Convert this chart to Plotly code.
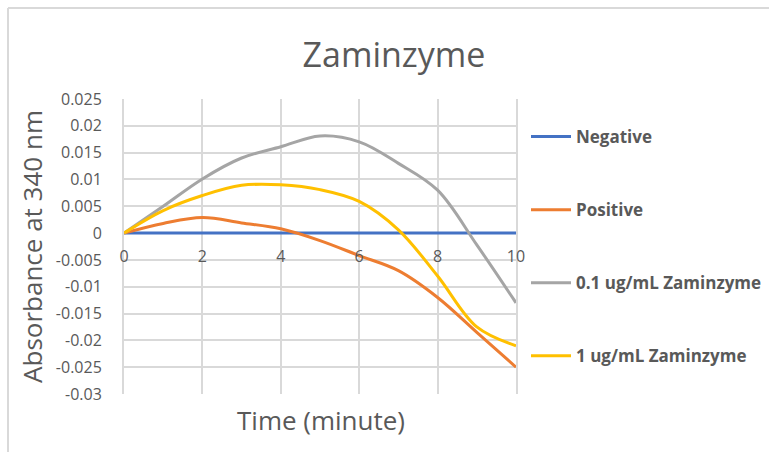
import plotly.graph_objects as go

# ---- data ----
time_min = [0, 1, 2, 3, 4, 5, 6, 7, 8, 9, 10]
negative = [0, 0, 0, 0, 0, 0, 0, 0, 0, 0, 0]
positive = [0, 0.0018, 0.0029, 0.0019, 0.0008, -0.0014, -0.0042, -0.007, -0.012, -0.0185, -0.025]
zam_01 = [0, 0.005, 0.0101, 0.0140, 0.0161, 0.0181, 0.0170, 0.0130, 0.008, -0.0022, -0.013]
zam_1 = [0, 0.0042, 0.0070, 0.0089, 0.0090, 0.0081, 0.0059, 0.0006, -0.008, -0.0175, -0.021]

series_names = ["Negative", "Positive", "0.1 ug/mL Zaminzyme", "1 ug/mL Zaminzyme"]
series_values = [negative, positive, zam_01, zam_1]
series_colors = ["#4472C4", "#ED7D31", "#A5A5A5", "#FFC000"]

y_tickvals = [0.025, 0.02, 0.015, 0.01, 0.005, 0, -0.005, -0.01, -0.015, -0.02, -0.025, -0.03]
y_ticktext = ["0.025", "0.02", "0.015", "0.01", "0.005", "0", "-0.005", "-0.01", "-0.015", "-0.02", "-0.025", "-0.03"]
x_tickvals = [0, 2, 4, 6, 8, 10]
x_ticktext = ["0", "2", "4", "6", "8", "10"]

Y_MIN, Y_MAX = -0.03, 0.025

FONT = "Open Sans, Noto Sans, sans-serif"
TXT = "#595959"
GRID = "#d9d9d9"

fig = go.Figure()
for i, (name, vals, col) in enumerate(zip(series_names, series_values, series_colors)):
    fig.add_trace(go.Scatter(
        x=time_min, y=vals, name=name, mode="lines",
        line=dict(color=col, width=3, shape="spline", smoothing=1.0),
        legendgroup=f"g{i}",
    ))

# plot area in px: left 124, right 516, top 99, bottom 394 (window 769x452)
L, R, T, B = 124, 516, 99, 394
W, H = 769, 452
pw, ph = R - L, B - T

def px_to_paper_x(px):
    return (px - L) / pw

def px_to_paper_y(py):
    return (B - py) / ph

zero_pos = (0 - Y_MIN) / (Y_MAX - Y_MIN)

fig.update_layout(
    width=W, height=H,
    margin=dict(l=L, r=W - R, t=T, b=H - B, autoexpand=False),
    paper_bgcolor="white", plot_bgcolor="white",
    font=dict(family=FONT, color=TXT),
    showlegend=True,
    legend=dict(
        x=px_to_paper_x(526), y=px_to_paper_y(119), xanchor="left", yanchor="top",
        font=dict(family=FONT, size=17, color=TXT, weight="bold"),
        tracegroupgap=48, itemwidth=40, bgcolor="rgba(0,0,0,0)",
    ),
    xaxis=dict(
        range=[0, 10], tickvals=x_tickvals, ticktext=x_ticktext,
        showgrid=True, gridcolor=GRID, gridwidth=2,
        zeroline=False, showline=False,
        anchor="free", position=zero_pos,
        ticks="", ticklabelstandoff=12,
        tickfont=dict(family=FONT, size=16, color=TXT),
    ),
    yaxis=dict(
        range=[Y_MIN, Y_MAX], tickvals=y_tickvals, ticktext=y_ticktext,
        showgrid=True, gridcolor=GRID, gridwidth=2,
        zeroline=False, showline=True, linecolor=GRID, linewidth=2, mirror=True,
        ticks="", ticklabelstandoff=17,
        tickfont=dict(family=FONT, size=16, color=TXT),
        title=dict(text="Absorbance at 340 nm", font=dict(family=FONT, size=26, color=TXT), standoff=6),
    ),
    title=dict(
        text="Zaminzyme", x=394 / W, xanchor="center", y=1 - 55 / H, yanchor="middle",
        font=dict(family=FONT, size=34, color=TXT),
    ),
    annotations=[dict(
        text="Time (minute)", xref="paper", yref="paper",
        x=px_to_paper_x(321), y=px_to_paper_y(420), xanchor="center", yanchor="middle",
        showarrow=False, font=dict(family=FONT, size=26, color=TXT),
    )],
    shapes=[
        dict(type="line", xref="paper", yref="paper",
             x0=px_to_paper_x(8), x1=px_to_paper_x(8), y0=px_to_paper_y(8), y1=px_to_paper_y(470),
             line=dict(color=GRID, width=2)),
        dict(type="line", xref="paper", yref="paper",
             x0=px_to_paper_x(8), x1=px_to_paper_x(790), y0=px_to_paper_y(8), y1=px_to_paper_y(8),
             line=dict(color=GRID, width=2)),
    ],
)

fig.write_html("out.html")
